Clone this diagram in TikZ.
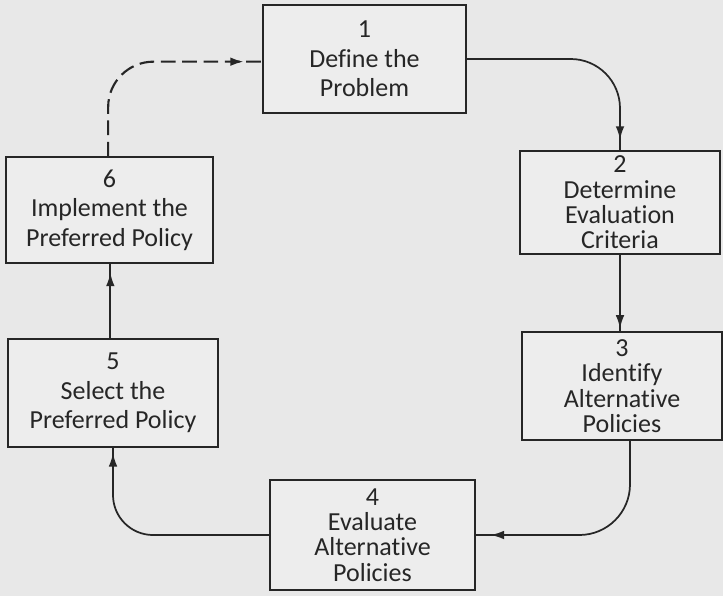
\documentclass[tikz,border=0pt]{standalone}
\usepackage{fontspec}
\setmainfont{Carlito}[Ligatures={NoCommon}]
\usetikzlibrary{decorations.markings,arrows.meta}
\tikzset{->-/.style={decoration={markings,mark=at position #1 with {\arrow{>}}},postaction={decorate}}}
\tikzset{pbox/.style={draw=black!85, line width=1.3pt, fill=black!7, inner sep=0pt, align=center, text=black!85, font=\fontsize{19.5}{22}\selectfont}}
\tikzset{pbox4/.style={pbox, font=\fontsize{19.5}{19}\selectfont}}

\begin{document}
\begin{tikzpicture}[>={Latex[length=10pt,width=6.5pt]}, x=0.75pt, y=-0.75pt]
\fill[black!9] (0,0) rectangle (723,596);
\useasboundingbox (0,0) rectangle (723,596);

%boxes
\node[pbox, minimum width=152pt, minimum height=81pt]   (s1) at (364.5,59)  {1\\Define the\\Problem};
\node[pbox4, minimum width=150pt, minimum height=77pt]  (s2) at (620,202.5) {2\\Determine\\Evaluation\\Criteria};
\node[pbox4, minimum width=150pt, minimum height=81pt]  (s3) at (622,386)   {3\\Identify\\Alternative\\Policies};
\node[pbox4, minimum width=154pt, minimum height=82pt]  (s4) at (372.5,535) {4\\Evaluate\\Alternative\\Policies};
\node[pbox, minimum width=157pt, minimum height=81pt]   (s5) at (113,393)   {5\\Select the\\Preferred Policy};
\node[pbox, minimum width=155pt, minimum height=79pt]   (s6) at (109.5,210) {6\\Implement the\\Preferred Policy};

%arrows
\draw [->-=-8pt, line width=1.3pt, draw=black!85, rounded corners=37pt] (s1.east) -| (s2.north);                    %1--2
\draw [->-=-2pt, line width=1.3pt, draw=black!85] (s2.south) -- (s2.south |- s3.north);                               %2--3
\draw [->-=-11pt, line width=1.3pt, draw=black!85, rounded corners=38pt] ([xshift=6pt]s3.south) |- (s4.east);         %3--4
\draw [->-=-4pt, line width=1.3pt, draw=black!85, rounded corners=30pt] (s4.west) -| (s5.south);                      %4--5
\draw [->-=-7pt, line width=1.3pt, draw=black!85] ([xshift=-2pt]s5.north) -- ([xshift=-2pt]s5.north |- s6.south);     %5--6
\draw [->-=-14pt, line width=1.6pt, draw=black!85, dash pattern=on 11pt off 5pt, rounded corners=34pt]
      ([xshift=-1pt]s6.north) |- ([yshift=-2pt]s1.west);                                                              %6--1
\end{tikzpicture}
\end{document}
